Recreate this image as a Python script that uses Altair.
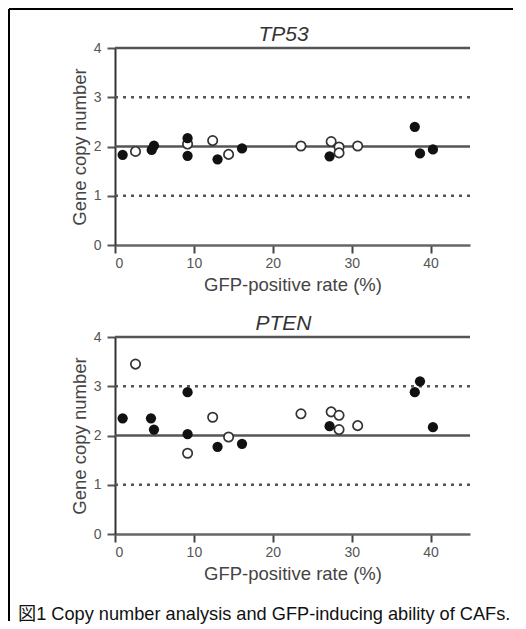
import altair as alt
import pandas as pd

# ---- data ----
filled_x = [0.97, 4.65, 4.94, 9.2, 9.2, 13.0, 16.1, 27.2, 38.0, 38.66, 40.3]
tp53_filled_y = [1.83, 1.93, 2.02, 2.17, 1.81, 1.74, 1.96, 1.80, 2.40, 1.86, 1.94]
pten_filled_x = [0.97, 4.56, 4.94, 9.2, 9.2, 13.0, 16.1, 27.2, 38.0, 38.66, 40.3]
pten_filled_y = [2.35, 2.35, 2.12, 2.88, 2.03, 1.77, 1.83, 2.19, 2.88, 3.10, 2.17]

open_x = [2.6, 9.2, 12.38, 14.4, 23.57, 27.4, 28.4, 28.4, 30.76]
tp53_open_y = [1.90, 2.05, 2.12, 1.84, 2.01, 2.10, 1.99, 1.87, 2.01]
pten_open_y = [3.45, 1.64, 2.37, 1.97, 2.44, 2.48, 2.41, 2.12, 2.20]

solid_levels = [4, 2]
dotted_levels = [3, 1]
x_ticks = [0, 5, 10, 15, 20, 25, 30, 35, 40, 45]
y_ticks = [0, 1, 2, 3, 4]

titles = ["TP53", "PTEN"]
x_title = "GFP-positive rate (%)"
y_title = "Gene copy number"
caption = "図1 Copy number analysis and GFP-inducing ability of CAFs."

FONT = "Liberation Sans, Arial, 'Noto Sans CJK JP', sans-serif"
W, H = 355, 197
one = pd.DataFrame({"k": [0]})


def panel(title, fx, fy, ox, oy, extra=None):
    xs = alt.Scale(domain=[0, 45], nice=False, zero=False)
    ys = alt.Scale(domain=[0, 4], nice=False, zero=False)
    xax = alt.Axis(values=x_ticks, labelExpr="datum.value % 10 == 0 ? datum.label : ''",
                   title=x_title, grid=False, tickSize=8, tickWidth=2, tickColor="#444",
                   domainColor="#666", domainWidth=2.5, labelPadding=3, titlePadding=5,
                   labelFontSize=14, titleFontSize=18.5, labelColor="#555", titleColor="#444",
                   labelFont=FONT, titleFont=FONT, titleFontWeight="normal", labelOverlap=False)
    yax = alt.Axis(values=y_ticks, title=y_title, grid=False, tickSize=8, tickWidth=2,
                   tickColor="#555", domainColor="#333", domainWidth=2, labelPadding=6,
                   titlePadding=4, labelFontSize=14, titleFontSize=18.5, labelColor="#555",
                   titleColor="#444", labelFont=FONT, titleFont=FONT, titleFontWeight="normal")

    solid = alt.Chart(pd.DataFrame({"v": solid_levels})).mark_rule(
        color="#555", strokeWidth=2.5).encode(y=alt.Y("v:Q", scale=ys, axis=yax))
    dotted = alt.Chart(pd.DataFrame({"v": dotted_levels})).mark_rule(
        color="#555", strokeWidth=2.5, strokeDash=[3, 5]).encode(y=alt.Y("v:Q", scale=ys))
    op = alt.Chart(pd.DataFrame({"x": ox, "y": oy})).mark_point(
        shape="circle", filled=True, fill="white", stroke="#333", strokeWidth=1.7,
        size=88, opacity=1).encode(
        x=alt.X("x:Q", scale=xs, axis=xax), y=alt.Y("y:Q", scale=ys))
    fl = alt.Chart(pd.DataFrame({"x": fx, "y": fy})).mark_circle(
        color="#111", size=105, opacity=1).encode(
        x=alt.X("x:Q", scale=xs), y=alt.Y("y:Q", scale=ys))
    ttl = alt.Chart(one).mark_text(align="center", baseline="alphabetic", fontSize=21,
                                   fontStyle="italic", font=FONT, color="#333").encode(
        x=alt.value(W / 2 - 9), y=alt.value(-7), text=alt.value(title))
    layers = [solid, dotted, op, fl, ttl] + (extra or [])
    return alt.layer(*layers).properties(width=W, height=H)


frame_v = alt.Chart(one).mark_rule(color="black", strokeWidth=2).encode(
    x=alt.value(-106), y=alt.value(-39), y2=alt.value(573))
frame_h = alt.Chart(one).mark_rule(color="black", strokeWidth=2).encode(
    x=alt.value(-106), x2=alt.value(398), y=alt.value(-39))
cap = alt.Chart(one).mark_text(align="left", baseline="middle", fontSize=18.2,
                               font=FONT, color="#111").encode(
    x=alt.value(-97), y=alt.value(278), text=alt.value(caption))

top = panel(titles[0], filled_x, tp53_filled_y, open_x, tp53_open_y, [frame_v, frame_h])
bottom = panel(titles[1], pten_filled_x, pten_filled_y, open_x, pten_open_y, [cap])

chart = alt.vconcat(top, bottom, spacing=92, bounds="flush").properties(
    padding=0, background="white"
).configure_view(stroke=None)

chart.save("out.html", embed_options={"renderer": "svg", "actions": False})
